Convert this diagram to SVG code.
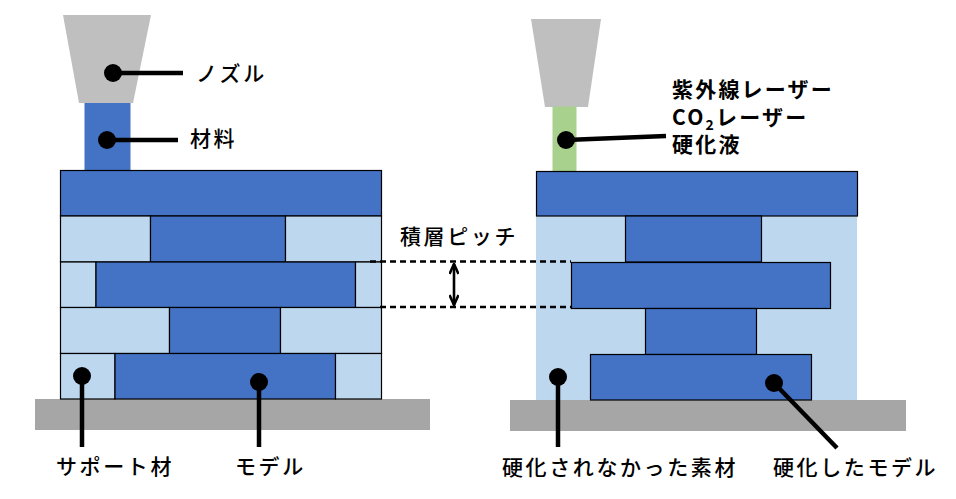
<svg xmlns="http://www.w3.org/2000/svg" width="956" height="499" viewBox="0 0 956 499">
<defs>
<style>
.dk{fill:#4472C4;stroke:#000;stroke-width:1.2}
.lt{fill:#BDD7EE;stroke:#000;stroke-width:1.2}
.ltn{fill:#BDD7EE;stroke:none}
.noz{fill:#BFBFBF}
.base{fill:#A6A6A6}
.lead{stroke:#000;stroke-width:4.5;fill:none}
.dot{fill:#000}
.dash{stroke:#000;stroke-width:2.4;stroke-dasharray:6 4;fill:none}
.t{font-family:"Noto Sans CJK JP","Noto Sans",sans-serif;font-size:21px;letter-spacing:2.6px;fill:#000;font-weight:500}
.tb{font-weight:700;letter-spacing:2.2px}
</style>
<marker id="ah" viewBox="0 0 12 10" refX="11" refY="5" markerWidth="12" markerHeight="10" markerUnits="userSpaceOnUse" orient="auto-start-reverse">
<path d="M1,0.5 L11,5 L1,9.5" fill="none" stroke="#000" stroke-width="2.6"/>
</marker>
</defs>
<rect width="956" height="499" fill="#fff"/>

<g id="left-base"><rect class="base" x="35" y="399" width="395" height="31"/></g>
<g id="left-nozzle"><polygon class="noz" points="63,15 151,15 133,103 79,103"/></g>
<g id="left-material"><rect x="84.5" y="103" width="46" height="67" fill="#4472C4"/></g>
<g id="left-stack">
<rect class="dk" x="60.5" y="170.5" width="321" height="45.5"/>
<rect class="lt" x="60.5" y="216" width="90" height="46"/>
<rect class="dk" x="150.5" y="216" width="135" height="46"/>
<rect class="lt" x="285.5" y="216" width="96" height="46"/>
<rect class="lt" x="60.5" y="262" width="35.5" height="45.5"/>
<rect class="dk" x="96" y="262" width="259.5" height="45.5"/>
<rect class="lt" x="355.5" y="262" width="26" height="45.5"/>
<rect class="lt" x="60.5" y="307.5" width="109" height="46"/>
<rect class="dk" x="169.5" y="307.5" width="111" height="46"/>
<rect class="lt" x="280.5" y="307.5" width="101" height="46"/>
<rect class="lt" x="60.5" y="353.5" width="54.5" height="45.5"/>
<rect class="dk" x="115" y="353.5" width="220.5" height="45.5"/>
<rect class="lt" x="335.5" y="353.5" width="46" height="45.5"/>
</g>

<g id="right-base"><rect class="base" x="510" y="400" width="396" height="31"/></g>
<g id="right-nozzle"><polygon class="noz" points="531,19 601,19 588,107 545,107"/></g>
<g id="right-liquid"><rect x="552.5" y="106.5" width="24" height="65" fill="#A9D18E"/></g>
<g id="right-stack">
<rect class="ltn" x="536" y="216" width="321" height="184"/>
<rect class="dk" x="536.5" y="171.5" width="321" height="44.5"/>
<rect class="dk" x="625.5" y="216" width="136" height="46"/>
<rect class="dk" x="571.5" y="262.5" width="259" height="46"/>
<rect class="dk" x="645.5" y="308.5" width="111" height="46"/>
<rect class="dk" x="590.5" y="354.5" width="221" height="45.5"/>
</g>

<g id="connectors">
<line class="lead" x1="113" y1="73" x2="183" y2="73"/>
<circle class="dot" cx="113" cy="73" r="9"/>
<line class="lead" x1="107" y1="140" x2="178" y2="140"/>
<circle class="dot" cx="107" cy="140" r="9"/>
<line class="lead" x1="82" y1="376" x2="82" y2="447"/>
<circle class="dot" cx="82" cy="376" r="9"/>
<line class="lead" x1="259" y1="382" x2="259" y2="447"/>
<circle class="dot" cx="259" cy="382" r="9"/>
<line class="lead" x1="566" y1="140" x2="666" y2="136"/>
<circle class="dot" cx="566" cy="140" r="9"/>
<line class="lead" x1="558" y1="377" x2="558" y2="447"/>
<circle class="dot" cx="558" cy="377" r="9"/>
<line class="lead" x1="774" y1="383" x2="837" y2="448"/>
<circle class="dot" cx="774" cy="383" r="9"/>
<line class="dash" x1="370" y1="261.5" x2="571" y2="261.5"/>
<line class="dash" x1="380" y1="307" x2="571" y2="307"/>
<line x1="454" y1="264" x2="454" y2="305" stroke="#000" stroke-width="2.6" marker-start="url(#ah)" marker-end="url(#ah)"/>
</g>

<g id="labels">
<text class="t" x="196" y="81">ノズル</text>
<text class="t" x="190" y="146">材料</text>
<text class="t" x="400" y="244">積層ピッチ</text>
<text class="t" x="56" y="474">サポート材</text>
<text class="t" x="235" y="474">モデル</text>
<text class="t tb" x="672" y="97">紫外線レーザー</text>
<text class="t tb" x="672" y="125">CO<tspan font-size="14" dy="5">2</tspan><tspan dy="-5">レーザー</tspan></text>
<text class="t tb" x="672" y="152">硬化液</text>
<text class="t" x="502" y="475">硬化されなかった素材</text>
<text class="t" x="773" y="475">硬化したモデル</text>
</g>
</svg>
